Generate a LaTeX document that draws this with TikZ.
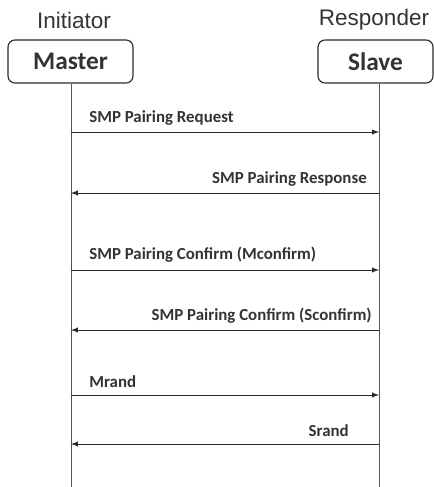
\documentclass[tikz,border=0pt]{standalone}
\usepackage{fontspec}
\setmainfont{Carlito}
\newfontfamily\headfont{Liberation Sans}
\usetikzlibrary{positioning,calc}
\definecolor{LineDark}{HTML}{2B2B2B}
\definecolor{LifeGray}{HTML}{555555}
\definecolor{TextDark}{HTML}{333333}

\begin{document}
\begin{tikzpicture}[x=0.025cm, y=-0.025cm,
  rolebox/.style={draw=LineDark, rounded corners=5pt, line width=0.8pt, minimum height=1.075cm, inner sep=0pt, font=\bfseries\fontsize{18}{21}\selectfont, text=TextDark},
  rolename/.style={font=\headfont\fontsize{16}{19}\selectfont, text=TextDark},
  msg/.style={-latex, draw=LineDark, line width=0.7pt},
  msglabel/.style={font=\bfseries\fontsize{12}{14}\selectfont, text=TextDark, inner sep=0pt}]
  \useasboundingbox (0,0) rectangle (434,487);

  % Participants
  \node[rolename] (init) at (74,20) {Initiator};
  \node[rolename] (resp) at (374,20) {Responder};
  \node[rolebox, minimum width=3.125cm] (master) at (70.5,61.5) {Master};
  \node[rolebox, minimum width=2.875cm] (slave) at (375.5,61.5) {Slave};

  % Lifelines
  \coordinate (mend) at (71,487);
  \coordinate (send) at (379,487);
  \draw[LifeGray, line width=0.6pt] (master.south -| mend) -- (mend);
  \draw[LifeGray, line width=0.6pt] (slave.south -| send) -- (send);

  % Message end points
  \foreach \y/\n in {132/1, 193/2, 270/3, 330/4, 395/5, 444/6} {
    \coordinate (m\n) at (71,\y);
    \coordinate (s\n) at (379,\y);
  }

  % Messages
  \draw[msg] (m1) -- (s1);
  \node[msglabel, anchor=west] (req) at (89,118) {SMP Pairing Request};
  \draw[msg] (s2) -- (m2);
  \node[msglabel, anchor=east] (rsp) at (367,179) {SMP Pairing Response};
  \draw[msg] (m3) -- (s3);
  \node[msglabel, anchor=west] (mconf) at (89,255) {SMP Pairing Confirm (Mconfirm)};
  \draw[msg] (s4) -- (m4);
  \node[msglabel, anchor=east] (sconf) at (372,316) {SMP Pairing Confirm (Sconfirm)};
  \draw[msg] (m5) -- (s5);
  \node[msglabel, anchor=west] (mrand) at (89,382) {Mrand};
  \draw[msg] (s6) -- (m6);
  \node[msglabel, anchor=east] (srand) at (349,431) {Srand};
\end{tikzpicture}
\end{document}
